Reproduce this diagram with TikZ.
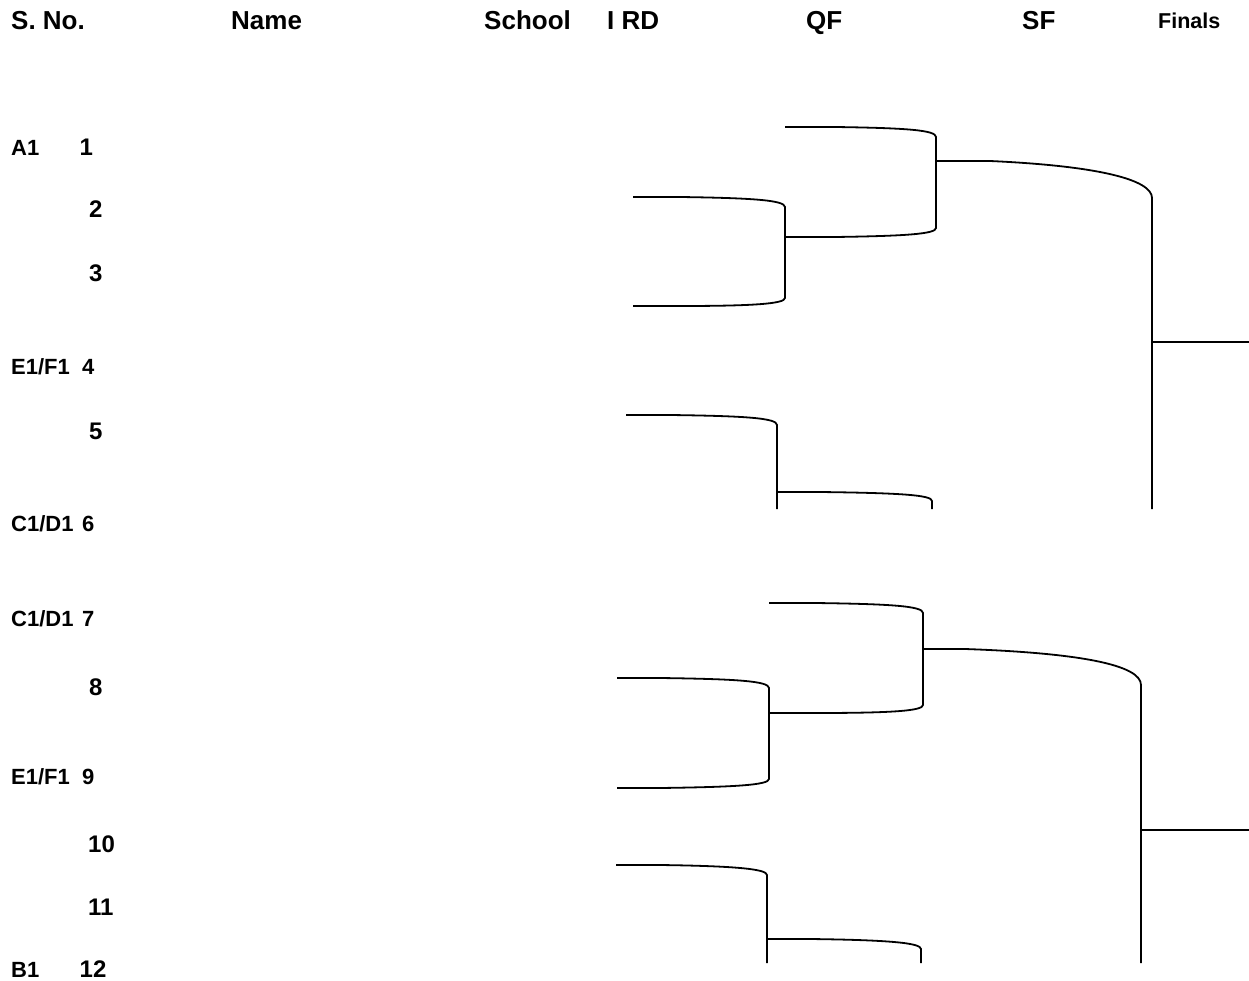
\documentclass[tikz,border=0pt]{standalone}
\usepackage{fontspec}
\setmainfont{Liberation Sans}
\begin{document}
\begin{tikzpicture}[x=1pt,y=-1pt,
  hdr/.style={anchor=base west,inner sep=0pt,font=\fontsize{26}{26}\selectfont\bfseries},
  fin/.style={anchor=base west,inner sep=0pt,font=\fontsize{21.5}{21.5}\selectfont\bfseries},
  lbl/.style={anchor=base west,inner sep=0pt,font=\fontsize{22}{22}\selectfont\bfseries},
  num/.style={anchor=base west,inner sep=0pt,font=\fontsize{24}{24}\selectfont\bfseries},
  br/.style={line width=1.8pt,line join=round,line cap=butt}]
\useasboundingbox (0,0) rectangle (1249,981);
% headers
\node[hdr] (hsno) at (11,30) {S. No.};
\node[hdr] (hname) at (231,30) {Name};
\node[hdr] (hschool) at (484,30) {School};
\node[hdr] (hird) at (607,30) {I RD};
\node[hdr] (hqf) at (806,30) {QF};
\node[hdr] (hsf) at (1022,30) {SF};
\node[fin] (hfin) at (1158,29) {Finals};
% rows
\node[lbl] (la1) at (11,156) {A1};
\node[num] (n1) at (79.5,156) {1};
\node[num] (n2) at (89,218) {2};
\node[num] (n3) at (89,282) {3};
\node[lbl] (le4) at (11,374) {E1/F1};
\node[lbl] (n4) at (82,374) {4};
\node[num] (n5) at (89,439) {5};
\node[lbl] (lc6) at (11,531) {C1/D1};
\node[lbl] (n6) at (82,531) {6};
\node[lbl] (lc7) at (11,626) {C1/D1};
\node[lbl] (n7) at (82,626) {7};
\node[num] (n8) at (89,695) {8};
\node[lbl] (le9) at (11,784) {E1/F1};
\node[lbl] (n9) at (82,784) {9};
\node[num] (n10) at (88,852) {10};
\node[num] (n11) at (88,915) {11};
\node[lbl] (lb1) at (11,977) {B1};
\node[num] (n12) at (79.5,977) {12};
% upper half bracket
\draw[br] (785,127) -- (835,127) .. controls (905,128) and (936,130) .. (936,137)
  -- (936,228) .. controls (936,234) and (905,236) .. (835,237) -- (785,237);
\draw[br] (936,161) -- (990,161) .. controls (1100,166) and (1152,180) .. (1152,198) -- (1152,509);
\draw[br] (1152,342) -- (1249,342);
\draw[br] (633,197) -- (680,197) .. controls (750,198) and (785,200) .. (785,207)
  -- (785,298) .. controls (785,304) and (750,306) .. (680,306) -- (633,306);
\draw[br] (626,415) -- (670,415) .. controls (745,416) and (777,418) .. (777,425) -- (777,509);
\draw[br] (777,492) -- (820,492) .. controls (900,493) and (932,495) .. (932,501) -- (932,509);
% lower half bracket
\draw[br] (769,603) -- (815,603) .. controls (890,604) and (923,606) .. (923,613)
  -- (923,705) .. controls (923,711) and (890,713) .. (815,713) -- (769,713);
\draw[br] (923,649) -- (965,649) .. controls (1080,653) and (1141,665) .. (1141,685) -- (1141,963);
\draw[br] (1141,830) -- (1249,830);
\draw[br] (617,678) -- (660,678) .. controls (735,679) and (769,681) .. (769,688)
  -- (769,779) .. controls (769,785) and (735,787) .. (660,788) -- (617,788);
\draw[br] (616,865) -- (660,865) .. controls (735,866) and (767,869) .. (767,875) -- (767,963);
\draw[br] (767,939) -- (810,939) .. controls (890,940) and (921,943) .. (921,949) -- (921,963);
\end{tikzpicture}
\end{document}
